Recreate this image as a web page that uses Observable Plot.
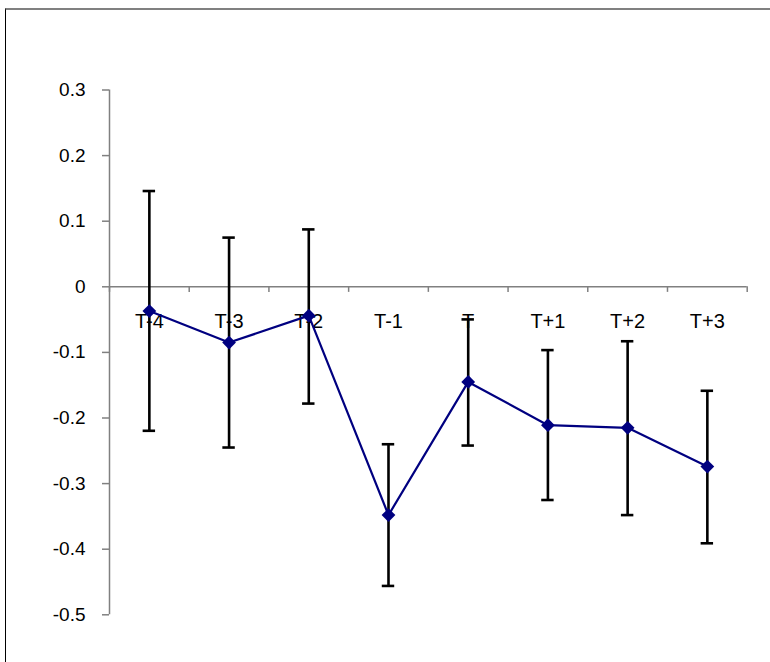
<!DOCTYPE html>
<html>
<head>
<meta charset="utf-8">
<script src="https://cdn.jsdelivr.net/npm/d3@7"></script>
<script src="https://cdn.jsdelivr.net/npm/@observablehq/plot@0.6"></script>
<style>
  html, body { margin: 0; padding: 0; background: #fff; overflow: hidden; }
  #wrap { position: relative; width: 770px; height: 662px; }
  #frame { position: absolute; left: 5px; top: 8px; width: 800px; height: 700px;
           border-top: 2px solid #808080; border-left: 1.5px solid #000; box-sizing: border-box; }
  #chart { position: absolute; left: 0; top: 0; }
</style>
</head>
<body>
<div id="wrap"><div id="frame"></div><div id="chart"></div></div>
<script>
const categories = ["T-4", "T-3", "T-2", "T-1", "T", "T+1", "T+2", "T+3"];
const means = [-0.037, -0.085, -0.044, -0.348, -0.145, -0.211, -0.215, -0.274];
const upper = [0.146, 0.075, 0.0875, -0.240, -0.0497, -0.0965, -0.083, -0.1585];
const lower = [-0.2195, -0.245, -0.178, -0.456, -0.242, -0.325, -0.348, -0.391];
const yTicks = [-0.5, -0.4, -0.3, -0.2, -0.1, 0, 0.1, 0.2, 0.3];

const rows = categories.map((c, i) => ({cat: c, i, pos: i + 0.5, mean: means[i], hi: upper[i], lo: lower[i]}));
const bounds = d3.range(categories.length + 1);
const capHalf = 0.078;
const fmt = d => d === 0 ? "0" : String(+d.toFixed(1));

const chart = Plot.plot({
  width: 770,
  height: 662,
  marginLeft: 109,
  marginRight: 23.3,
  marginTop: 89.5,
  marginBottom: 47.7,
  style: {fontFamily: "'Liberation Sans', Arial, sans-serif", background: "transparent", overflow: "visible"},
  x: {domain: [0, categories.length], axis: null},
  y: {domain: [-0.5, 0.3], axis: null},
  marks: [
    // y axis
    Plot.ruleX([0], {y1: -0.5, y2: 0.3, stroke: "#808080", strokeWidth: 1.5}),
    Plot.axisY(yTicks, {tickSize: 7, tickPadding: 17, tickFormat: fmt, stroke: "#808080", strokeWidth: 1.5, fill: "#000", fontSize: 19}),
    // x axis at y = 0
    Plot.ruleY([0], {stroke: "#808080", strokeWidth: 1.5}),
    Plot.ruleX(bounds, {x: d => d, y1: 0, y2: -0.0085, stroke: "#808080", strokeWidth: 1.5}),
    Plot.text(rows, {x: "pos", y: 0, text: "cat", dy: 35, fontSize: 20, fill: "#000", textAnchor: "middle", lineAnchor: "middle"}),
    // error bars
    Plot.ruleX(rows, {x: "pos", y1: "lo", y2: "hi", stroke: "#000", strokeWidth: 2.6}),
    Plot.ruleY(rows, {y: "hi", x1: d => d.pos - capHalf, x2: d => d.pos + capHalf, stroke: "#000", strokeWidth: 2.6}),
    Plot.ruleY(rows, {y: "lo", x1: d => d.pos - capHalf, x2: d => d.pos + capHalf, stroke: "#000", strokeWidth: 2.6}),
    // series
    Plot.line(rows, {x: "pos", y: "mean", stroke: "#000080", strokeWidth: 2.2}),
    Plot.dot(rows, {x: "pos", y: "mean", symbol: "diamond2", r: 6.2, fill: "#000080", stroke: "none"})
  ]
});
document.getElementById("chart").appendChild(chart);
</script>
</body>
</html>
